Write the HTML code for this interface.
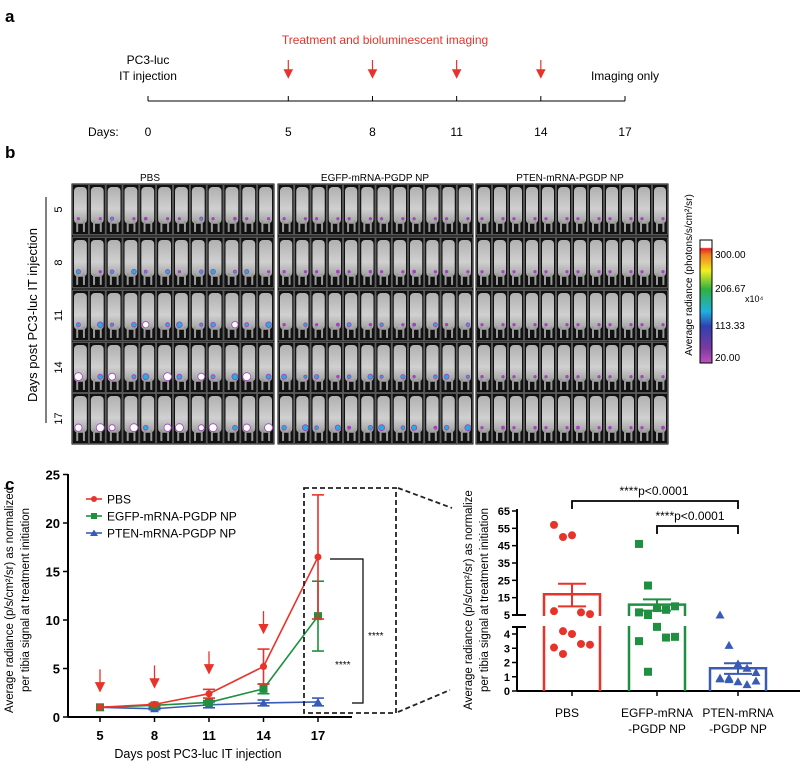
<!DOCTYPE html>
<html><head><meta charset="utf-8"><style>
body{margin:0;background:#fff;width:800px;height:765px;overflow:hidden}
svg{font-family:"Liberation Sans",Arial,sans-serif}
</style></head><body>
<svg id="fig" width="800" height="765" viewBox="0 0 800 765">
<defs>
<marker id="ah" markerWidth="8" markerHeight="8" refX="4" refY="4" orient="auto"><path d="M0,0L8,4L0,8Z" fill="#e8332a"/></marker>
<linearGradient id="cb" x1="0" y1="1" x2="0" y2="0">
<stop offset="0" stop-color="#c050c0"/><stop offset="0.12" stop-color="#7a3aa0"/><stop offset="0.3" stop-color="#3040b0"/><stop offset="0.42" stop-color="#20b0e0"/><stop offset="0.6" stop-color="#30b040"/><stop offset="0.75" stop-color="#f0f020"/><stop offset="0.88" stop-color="#f08020"/><stop offset="0.93" stop-color="#e82020"/><stop offset="0.94" stop-color="#fff"/><stop offset="1" stop-color="#fff"/></linearGradient>
<linearGradient id="mouse" x1="0" y1="0" x2="0" y2="1"><stop offset="0" stop-color="#b0b0b0"/><stop offset="0.6" stop-color="#d0d0d0"/><stop offset="1" stop-color="#a0a0a0"/></linearGradient>
</defs>
<g>
<text x="5" y="22" font-size="17" font-weight="bold">a</text>
<text x="385" y="44" font-size="12" fill="#e8332a" text-anchor="middle">Treatment and bioluminescent imaging</text>
<text x="148" y="64" font-size="12" text-anchor="middle">PC3-luc</text>
<text x="148" y="80" font-size="12" text-anchor="middle">IT injection</text>
<text x="625" y="80" font-size="12" text-anchor="middle">Imaging only</text>
<line x1="148" y1="101" x2="625" y2="101" stroke="#000"/>
<text x="88" y="136" font-size="12">Days:</text>
<g id="tl"></g>
</g>
<g>
<text x="5" y="158" font-size="17" font-weight="bold">b</text>
<text x="150" y="181" font-size="10" text-anchor="middle">PBS</text>
<text x="375" y="181" font-size="10" text-anchor="middle">EGFP-mRNA-PGDP NP</text>
<text x="570" y="181" font-size="10" text-anchor="middle">PTEN-mRNA-PGDP NP</text>
<text transform="translate(37,315) rotate(-90)" font-size="13" text-anchor="middle">Days post  PC3-luc IT injection</text>
<line x1="46" y1="197" x2="46" y2="423" stroke="#000"/>
<g id="mice"></g>
<rect x="700" y="240" width="12" height="123" fill="url(#cb)" stroke="#000"/>
<g font-size="10">
<text x="715" y="258">300.00</text><text x="715" y="292">206.67</text><text x="715" y="329">113.33</text><text x="715" y="361">20.00</text>
<text x="745" y="302" font-size="9">x10⁴</text>
</g>
<text transform="translate(692,275) rotate(-90)" font-size="10" text-anchor="middle">Average radiance (photons/s/cm²/sr)</text>
</g>
<text x="5" y="490" font-size="17" font-weight="bold">c</text>
<g id="left"></g>
<g id="right"></g>
</svg>
<script>
var NS="http://www.w3.org/2000/svg";
function mk(p,t,a){var e=document.createElementNS(NS,t);for(var k in a)e.setAttribute(k,a[k]);p.appendChild(e);return e;}
var tlDays=[0,5,8,11,14,17];
var tl=document.getElementById('tl');
tlDays.forEach(function(d,i){var x=148+d*(477/17);
mk(tl,'line',{x1:x,y1:96,x2:x,y2:101,stroke:'#000'});
var t=mk(tl,'text',{x:x,y:136,'font-size':12,'text-anchor':'middle'});t.textContent=d;


if(i>=1&&i<=4){var a=mk(tl,'line',{x1:x,y1:60,x2:x,y2:74,stroke:'#e8332a','stroke-width':1.2,'marker-end':'url(#ah)'});

}
});
var mg=document.getElementById('mice');
var panels=[[72,274],[278,473],[476,668]];
var rowsY=[184,237,290,342,393];var rowH=51;
var rowLab=['5','8','11','14','17'];
rowLab.forEach(function(r,i){var t=mk(mg,'text',{transform:'translate(62,'+(rowsY[i]+rowH/2)+') rotate(-90)','font-size':11,'text-anchor':'middle'});t.textContent=r;

});
panels.forEach(function(p,pi){
 var w=p[1]-p[0];var n=12;var mw=w/n;
 var bg=mk(mg,'rect',{x:p[0],y:184,width:w,height:260,fill:'#333',stroke:'#000'});
 
 
 rowsY.forEach(function(y,ri){
  for(var k=0;k<n;k++){var x=p[0]+k*mw;
   mk(mg,'rect',{x:x+0.5,y:y+0.5,width:mw-1,height:rowH-1,fill:'#111',stroke:'#777','stroke-width':0.6});
   mk(mg,'rect',{x:x+2,y:y+3,width:mw-4,height:rowH*0.72,rx:4,fill:'url(#mouse)'});
   mk(mg,'rect',{x:x+mw*0.25,y:y+rowH*0.72,width:2,height:rowH*0.22,fill:'#999'});
   mk(mg,'rect',{x:x+mw*0.65,y:y+rowH*0.72,width:2,height:rowH*0.22,fill:'#999'});
   var s=(pi==0?1.6:pi==1?1.0:0.5)*(0.5+ri*0.25)*(1+((k*7+ri*3)%5)/4);
   mk(mg,'circle',{cx:x+mw/2+((k%2)?3:-2),cy:y+rowH*0.68,r:Math.min(4,Math.max(1.2,s)),fill:s>3?'#fff':s>1.5?'#20b0e0':'#b040c0',stroke:'#a040c0','stroke-width':0.8});
  }
 });
});
</script>
<script>
var days=[5,8,11,14,17];
var pbsMean=[1,1.3,2.4,5.2,16.5], pbsErr=[0,0.1,0.45,1.8,6.4];
var egfpMean=[1,1.2,1.5,2.9,10.4], egfpErr=[0,0.1,0.2,0.5,3.6];
var ptenMean=[1,0.85,1.25,1.45,1.55], ptenErr=[0,0.1,0.3,0.3,0.4];
var yTicksL=[0,5,10,15,20,25];
var L=document.getElementById('left');
function xL(d){return 100+(d-5)*(218/12);}
function yL(v){return 717-v*(194/20);}
mk(L,'line',{x1:68,y1:474,x2:68,y2:717,stroke:'#000','stroke-width':2});
mk(L,'line',{x1:68,y1:717,x2:352,y2:717,stroke:'#000','stroke-width':2});
yTicksL.forEach(function(v){mk(L,'line',{x1:63,y1:yL(v),x2:68,y2:yL(v),stroke:'#000','stroke-width':1.5});
var t=mk(L,'text',{x:60,y:yL(v)+5,'font-size':13,'font-weight':'bold','text-anchor':'end'});t.textContent=v;

});
days.forEach(function(d){mk(L,'line',{x1:xL(d),y1:717,x2:xL(d),y2:722,stroke:'#000','stroke-width':1.5});
var t=mk(L,'text',{x:xL(d),y:740,'font-size':13,'font-weight':'bold','text-anchor':'middle'});t.textContent=d;

});
var xt=mk(L,'text',{x:198,y:758,'font-size':12.5,'text-anchor':'middle'});xt.textContent='Days post PC3-luc IT injection';


var yt=mk(L,'text',{transform:'translate(13,600) rotate(-90)','font-size':11.5,'text-anchor':'middle'});yt.textContent='Average radiance (p/s/cm²/sr) as normalized';


var yt2=mk(L,'text',{transform:'translate(29,600) rotate(-90)','font-size':11.5,'text-anchor':'middle'});yt2.textContent='per tibia  signal at treatment initiation';


days.slice(0,4).forEach(function(d,i){var top=yL(pbsMean[i]+pbsErr[i])-28;
var a=mk(L,'line',{x1:xL(d),y1:top-10,x2:xL(d),y2:top+8,stroke:'#e8332a','stroke-width':1.3,'marker-end':'url(#ah)'});

});
var series=[['ptenn',ptenMean,ptenErr,'#3a5bb5','tri'],['egfp',egfpMean,egfpErr,'#1e9040','sq'],['pbs',pbsMean,pbsErr,'#e8332a','dot']];
series.forEach(function(s){
 var pts=s[1].map(function(v,i){return xL(days[i])+','+yL(v);}).join(' ');
 var pl=mk(L,'polyline',{points:pts,fill:'none',stroke:s[3],'stroke-width':1.6});
 
 
 s[1].forEach(function(v,i){var x=xL(days[i]);
  if(s[2][i]>0){mk(L,'line',{x1:x,y1:yL(v-s[2][i]),x2:x,y2:yL(v+s[2][i]),stroke:s[3],'stroke-width':1.6});
   mk(L,'line',{x1:x-6,y1:yL(v-s[2][i]),x2:x+6,y2:yL(v-s[2][i]),stroke:s[3],'stroke-width':1.6});
   mk(L,'line',{x1:x-6,y1:yL(v+s[2][i]),x2:x+6,y2:yL(v+s[2][i]),stroke:s[3],'stroke-width':1.6});}
  var m;var y=yL(v);
  if(s[4]=='dot')m=mk(L,'circle',{cx:x,cy:y,r:3.5,fill:s[3]});
  else if(s[4]=='sq')m=mk(L,'rect',{x:x-4,y:y-4,width:8,height:8,fill:s[3]});
  else m=mk(L,'path',{d:'M'+x+','+(y-4)+'L'+(x+4.5)+','+(y+3.5)+'L'+(x-4.5)+','+(y+3.5)+'Z',fill:s[3]});
  
  
 });
});
var legN=['PBS','EGFP-mRNA-PGDP NP','PTEN-mRNA-PGDP NP'],legC=['#e8332a','#1e9040','#3a5bb5'];
legN.forEach(function(n,i){var y=499+i*17;
mk(L,'line',{x1:86,y1:y,x2:102,y2:y,stroke:legC[i],'stroke-width':1.6});
if(i==0)mk(L,'circle',{cx:94,cy:y,r:3,fill:legC[i]});else if(i==1)mk(L,'rect',{x:91,y:y-3,width:6,height:6,fill:legC[i]});else mk(L,'path',{d:'M94,'+(y-3.5)+'L98,'+(y+3)+'L90,'+(y+3)+'Z',fill:legC[i]});
var t=mk(L,'text',{x:107,y:y+4.5,'font-size':12});t.textContent=n;

});
var bx=mk(L,'rect',{x:304,y:488,width:92,height:225,fill:'none',stroke:'#222','stroke-width':1.8,'stroke-dasharray':'5,3'});


mk(L,'line',{x1:398,y1:488,x2:452,y2:508,stroke:'#222','stroke-width':1.8,'stroke-dasharray':'5,3'});
mk(L,'line',{x1:398,y1:712,x2:450,y2:690,stroke:'#222','stroke-width':1.8,'stroke-dasharray':'5,3'});
mk(L,'path',{d:'M330,559H363V703H352',fill:'none',stroke:'#000','stroke-width':1.2});
var s1=mk(L,'text',{x:368,y:639,'font-size':10});s1.textContent='****';


var s2=mk(L,'text',{x:335,y:668,'font-size':10});s2.textContent='****';


</script>
<script>
var groups=['PBS','EGFP-mRNA','PTEN-mRNA'];
var groups2=['','-PGDP NP','-PGDP NP'];
var barMean=[17,11,1.6], semHi=[23,14,1.95], semLo=[10,7.5,1.2];
var pbsPts=[57,50,51,6.5,5.5,7.2,4.2,4.0,3.3,3.25,3.05,2.6];
var egfpPts=[46,22,9,8,10,6.5,5,4.5,3.75,3.8,3.5,1.35];
var ptenPts=[5,3.2,1.9,1.6,1.3,0.9,0.8,0.65,0.45,0.7,0.85,0.9];
var yTicksUp=[5,15,25,35,45,55,65], yTicksLo=[0,1,2,3,4];
var R=document.getElementById('right');
var cx=[572,657,738], cols=['#e8332a','#1e9040','#3a5bb5'];
function yR(v){return v>=4.7? 615-(v-5)*(104/60) : 691-v*14.25;}
mk(R,'line',{x1:517,y1:509,x2:517,y2:615,stroke:'#000','stroke-width':2});
mk(R,'line',{x1:517,y1:627,x2:517,y2:691,stroke:'#000','stroke-width':2});
mk(R,'line',{x1:512,y1:615,x2:526,y2:615,stroke:'#000','stroke-width':2});
mk(R,'line',{x1:512,y1:627,x2:526,y2:627,stroke:'#000','stroke-width':2});
mk(R,'line',{x1:517,y1:691,x2:800,y2:691,stroke:'#000','stroke-width':2});
yTicksUp.forEach(function(v){mk(R,'line',{x1:512,y1:yR(v),x2:517,y2:yR(v),stroke:'#000','stroke-width':1.5});
var t=mk(R,'text',{x:510,y:yR(v)+4,'font-size':11,'font-weight':'bold','text-anchor':'end'});t.textContent=v;

});
yTicksLo.forEach(function(v){mk(R,'line',{x1:512,y1:yR(v),x2:517,y2:yR(v),stroke:'#000','stroke-width':1.5});
var t=mk(R,'text',{x:510,y:yR(v)+4,'font-size':11,'font-weight':'bold','text-anchor':'end'});t.textContent=v;

});
var t1=mk(R,'text',{transform:'translate(472,600) rotate(-90)','font-size':11.5,'text-anchor':'middle'});t1.textContent='Average radiance (p/s/cm²/sr) as normalize';


var t2=mk(R,'text',{transform:'translate(488,600) rotate(-90)','font-size':11.5,'text-anchor':'middle'});t2.textContent='per tibia  signal at treatment initiation';


var allPts=[pbsPts,egfpPts,ptenPts];
groups.forEach(function(g,i){var x=cx[i];var c=cols[i];
 var yt=yR(barMean[i]);
 var b=mk(R,'path',{d:'M'+(x-28)+',691V'+yt+'H'+(x+28)+'V691',fill:'none',stroke:c,'stroke-width':2.5});
 
 
 if(barMean[i]>=4.7){mk(R,'rect',{x:x-30,y:616,width:60,height:10,fill:'#fff'});}
 mk(R,'line',{x1:x,y1:yR(semLo[i]),x2:x,y2:yR(semHi[i]),stroke:c,'stroke-width':2});
 mk(R,'line',{x1:x-14,y1:yR(semLo[i]),x2:x+14,y2:yR(semLo[i]),stroke:c,'stroke-width':2});
 mk(R,'line',{x1:x-14,y1:yR(semHi[i]),x2:x+14,y2:yR(semHi[i]),stroke:c,'stroke-width':2});
 allPts[i].forEach(function(v,k){var px=x+((k%5)-2)*9;var py=yR(v);var m;
  if(i==0)m=mk(R,'circle',{cx:px,cy:py,r:4,fill:c});
  else if(i==1)m=mk(R,'rect',{x:px-4,y:py-4,width:8,height:8,fill:c});
  else m=mk(R,'path',{d:'M'+px+','+(py-4.5)+'L'+(px+4.5)+','+(py+3.5)+'L'+(px-4.5)+','+(py+3.5)+'Z',fill:c});
  
  });
 mk(R,'line',{x1:x,y1:691,x2:x,y2:696,stroke:'#000','stroke-width':1.5});
 var l=mk(R,'text',{x:x+(i==0?-5:0),y:717,'font-size':12,'text-anchor':'middle'});l.textContent=g;
 
 
 var l2=mk(R,'text',{x:x,y:733,'font-size':12,'text-anchor':'middle'});l2.textContent=groups2[i];
});
mk(R,'path',{d:'M572,509V501H738V509',fill:'none',stroke:'#000','stroke-width':1.8});
mk(R,'path',{d:'M657,534V526H738V534',fill:'none',stroke:'#000','stroke-width':1.8});
var p1=mk(R,'text',{x:654,y:495,'font-size':12,'text-anchor':'middle'});p1.textContent='****p<0.0001';


var p2=mk(R,'text',{x:690,y:520,'font-size':12,'text-anchor':'middle'});p2.textContent='****p<0.0001';


</script>
</body></html>
